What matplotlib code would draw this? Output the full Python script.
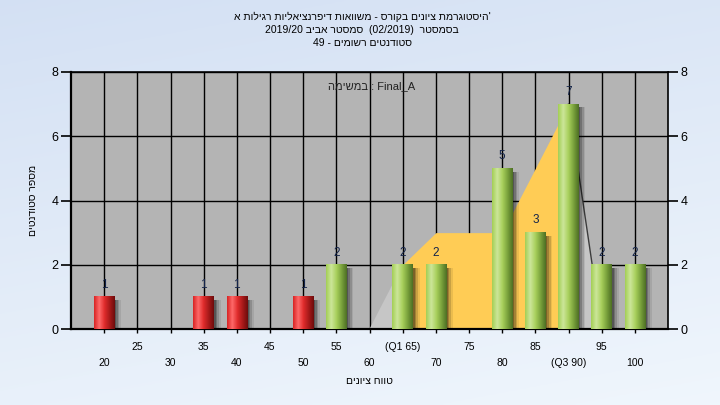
import numpy as np
import matplotlib
matplotlib.use('Agg')
import matplotlib.pyplot as plt
from matplotlib.colors import LinearSegmentedColormap
from matplotlib.patches import Rectangle

plt.rcParams['font.family'] = ['Liberation Sans', 'DejaVu Sans']

# ---- data ----
grades = [20, 35, 40, 50, 55, 65, 70, 80, 85, 90, 95, 100]
counts = [1, 1, 1, 1, 2, 2, 2, 5, 3, 7, 2, 2]
pass_grade = 55

# area behind the bars (quartile band)
area_x = [60, 65, 70, 75, 80, 85, 90, 95]
area_y = [0, 2, 3, 3, 3, 5, 7, 0]
q1, q3 = 65, 90

row1_ticks = [25, 35, 45, 55, 65, 75, 85, 95]
row1_labels = ['25', '35', '45', '55', '(Q1 65)', '75', '85', '95']
row2_ticks = [20, 30, 40, 50, 60, 70, 80, 90, 100]
row2_labels = ['20', '30', '40', '50', '60', '70', '80', '(Q3 90)', '100']
y_ticks = [0, 2, 4, 6, 8]

# hebrew strings, written in visual (left-to-right) order
title_1 = 'היסטוגרמת ציונים בקורס - משוואות דיפרנציאליות רגילות א'[::-1] + "'"
title_2 = '2019/20 ' + 'סמסטר אביב'[::-1] + '  (02/2019)  ' + 'בסמסטר'[::-1]
title_3 = '49 - ' + 'סטודנטים רשומים'[::-1]
x_title = 'טווח ציונים'[::-1]
y_title = 'מספר סטודנטים'[::-1]
task_text = 'במשימה'[::-1] + ' : Final_A'

fig = plt.figure(figsize=(7.2, 4.05), dpi=100)

# light blue page background
bg = fig.add_axes([0, 0, 1, 1], zorder=-1)
gy = np.linspace(0, 1, 200)[:, None]
gx = np.linspace(0, 1, 200)[None, :]
t = np.clip(0.75 * gy + 0.25 * gx, 0, 1)
top = np.array([0.83, 0.88, 0.955])
bot = np.array([0.94, 0.965, 0.99])
img = top[None, None, :] * (1 - t[..., None]) + bot[None, None, :] * t[..., None]
bg.imshow(img, aspect='auto', extent=[0, 1, 0, 1])
bg.axis('off')

ax = fig.add_axes([71 / 720, 76 / 405, 597 / 720, 257 / 405])
ax.set_facecolor('#b4b4b4')
ax.set_axisbelow(True)

green = LinearSegmentedColormap.from_list(
    'g', ['#a4cf55', '#cce69a', '#a9d05c', '#7aa23c', '#4d6f24'])
red = LinearSegmentedColormap.from_list(
    'r', ['#d82424', '#ff6a6a', '#e02c2c', '#a81a1a', '#6e0c0c'])

# quartile band
ax_x = np.array(area_x)
ax_y = np.array(area_y)
ax.fill_between(ax_x, ax_y, where=(ax_x <= q1) | (ax_x >= q3),
                color='#c6c6c6', lw=0, zorder=1)
ax.fill_between(ax_x, ax_y, where=(ax_x >= q1) & (ax_x <= q3),
                color='#ffcc55', lw=0, zorder=1)
ax.plot(area_x[-2:], area_y[-2:], color='#3c3c3c', lw=1, zorder=1.2)

bar_w = 3.1
for g, c in zip(grades, counts):
    cmap = red if g < pass_grade else green
    # soft shadow on the right
    for dx, a in [(0.25, 0.24), (0.5, 0.2), (0.75, 0.14), (1.0, 0.08)]:
        ax.add_patch(Rectangle((g - bar_w / 2 + dx, 0), bar_w, c - 0.1,
                               color='black', alpha=a, lw=0, zorder=2))
    grad = cmap(np.linspace(0, 1, 64))[None, :, :]
    ax.imshow(grad, aspect='auto', extent=(g - bar_w / 2, g + bar_w / 2, 0, c),
              interpolation='bilinear', zorder=3)
    ax.text(g, c + 0.38, str(c), ha='center', va='center', fontsize=8.5,
            color='#14244a', zorder=4)

ax.set_xlim(15, 105)
ax.set_ylim(0, 8)

ax.set_xticks(row1_ticks, labels=row1_labels)
ax.set_xticks(row2_ticks, labels=row2_labels, minor=True)
ax.tick_params(axis='x', which='major', length=3, width=1, pad=6, labelsize=7.5)
ax.tick_params(axis='x', which='minor', length=3, width=1, pad=18, labelsize=7.5)
ax.set_yticks(y_ticks)
ax.tick_params(axis='y', length=7, width=1.2, labelsize=9, pad=2,
               right=True, labelright=True)
ax.grid(axis='x', which='both', color='black', lw=1)
ax.grid(axis='y', color='black', lw=1)
for s in ax.spines.values():
    s.set_color('black')
    s.set_linewidth(1.2)
ax.spines['bottom'].set_linewidth(1.6)
ax.spines['left'].set_linewidth(1.6)

ax.text(0.5 + 2 / 597, 0.946, task_text, transform=ax.transAxes, ha='center',
        va='center', fontsize=8, color='#222222', zorder=5)

fig.text(0.503, 1 - 17 / 405, title_1, ha='center', va='center', fontsize=7.5)
fig.text(0.503, 1 - 30 / 405, title_2, ha='center', va='center', fontsize=7.5)
fig.text(0.503, 1 - 43 / 405, title_3, ha='center', va='center', fontsize=7.5)
fig.text(369 / 720, 1 - 381 / 405, x_title, ha='center', va='center', fontsize=7.5)
fig.text(33 / 720, 1 - 200 / 405, y_title, ha='center', va='center',
         rotation=90, fontsize=7.5)

fig.savefig('out.png', dpi=100)
